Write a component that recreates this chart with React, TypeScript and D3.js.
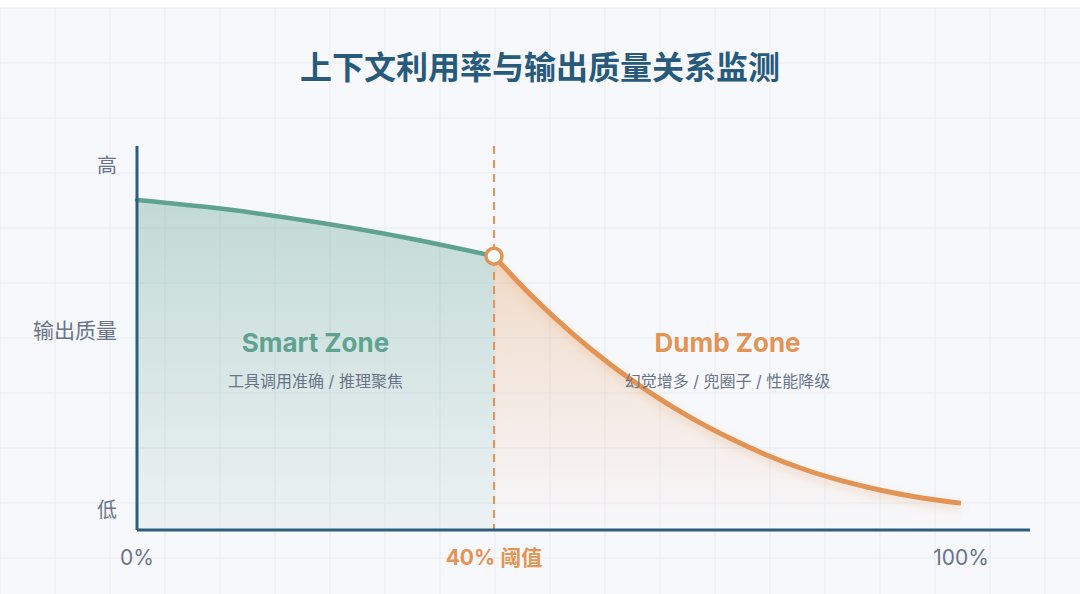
import React from "react";
import * as d3 from "d3";

const W = 1080;
const H = 594;

const title = "上下文利用率与输出质量关系监测";
const yTickLabels = ["低", "输出质量", "高"];
const yTickValues = [0, 50, 100];
const xTickValues = [0, 40, 100];
const xTickLabels = ["0%", "40% 阈值", "100%"];
const threshold = 40;

// Context utilization (%) vs output quality (0–100)
const smartX = [0, 10, 20, 30, 40];
const smartY = [90.1, 87.4, 83.7, 79.2, 73.8];
const dumbX = [40, 45, 50, 55, 60, 65, 70, 75, 80, 85, 90, 95, 100];
const dumbY = [73.8, 61.9, 51.4, 42.2, 34.2, 27.2, 21.2, 16.0, 11.7, 8.3, 5.6, 3.5, 2.0];

const zoneNames = ["Smart Zone", "Dumb Zone"];
const zoneNotes = ["工具调用准确 / 推理聚焦", "幻觉增多 / 兜圈子 / 性能降级"];

const GREEN = "#5fa28f";
const ORANGE = "#e39454";
const AXIS = "#2e5e7e";
const GRAY = "#6a7489";
const TITLE = "#275a7b";
const CJK = "'Inter', 'Noto Sans CJK SC', 'Noto Sans', sans-serif";

export default function App() {
  const x = d3.scaleLinear().domain([0, 40, 100]).range([137, 494, 961]);
  const y = d3.scaleLinear().domain([0, 100]).range([510, 166]);
  const axisTop = 146;
  const axisBottom = 530;
  const axisRight = 1030;

  const smart = smartX.map((v, i) => [v, smartY[i]] as [number, number]);
  const dumb = dumbX.map((v, i) => [v, dumbY[i]] as [number, number]);

  const line = d3
    .line<[number, number]>()
    .x((d) => x(d[0]))
    .y((d) => y(d[1]))
    .curve(d3.curveMonotoneX);
  const area = d3
    .area<[number, number]>()
    .x((d) => x(d[0]))
    .y0(axisBottom)
    .y1((d) => y(d[1]))
    .curve(d3.curveMonotoneX);

  const gridX = d3.range(0, W + 1, 55);
  const gridY = d3.range(8, H + 1, 55);

  const tx = x(threshold);
  const ty = y(smartY[smartY.length - 1]);

  return (
    <svg
      width={W}
      height={H}
      style={{ position: "fixed", left: 0, top: 0, display: "block" }}
    >
      <defs>
        <linearGradient id="gGreen" x1="0" y1="0" x2="0" y2="1">
          <stop offset="0%" stopColor={GREEN} stopOpacity={0.35} />
          <stop offset="100%" stopColor={GREEN} stopOpacity={0.07} />
        </linearGradient>
        <linearGradient id="gOrange" x1="0" y1="0" x2="0" y2="1">
          <stop offset="0%" stopColor={ORANGE} stopOpacity={0.3} />
          <stop offset="100%" stopColor={ORANGE} stopOpacity={0.0} />
        </linearGradient>
        <filter id="glow" x="-10%" y="-20%" width="120%" height="140%">
          <feDropShadow dx="0" dy="4" stdDeviation="4" floodColor={ORANGE} floodOpacity={0.3} />
        </filter>
      </defs>
      <rect x={0} y={0} width={W} height={H} fill="#ffffff" />
      <rect x={0} y={8} width={W} height={H - 8} fill="#f7f8fb" />
      {gridX.map((gx) => (
        <line key={"vx" + gx} x1={gx} x2={gx} y1={8} y2={H} stroke="#e9ebf1" strokeWidth={1} />
      ))}
      {gridY.map((gy) => (
        <line key={"hy" + gy} x1={0} x2={W} y1={gy} y2={gy} stroke="#e9ebf1" strokeWidth={1} />
      ))}

      <text
        x={W / 2}
        y={79}
        textAnchor="middle"
        fontFamily={CJK}
        fontWeight={700}
        fontSize={32}
        fill={TITLE}
      >
        {title}
      </text>

      <path d={area(smart) || ""} fill="url(#gGreen)" />
      <path d={area(dumb) || ""} fill="url(#gOrange)" />

      <line
        x1={tx}
        x2={tx}
        y1={axisTop}
        y2={axisBottom}
        stroke={ORANGE}
        strokeWidth={2}
        strokeDasharray="8 6"
      />

      <path d={line(smart) || ""} fill="none" stroke={GREEN} strokeWidth={4.5} strokeLinecap="round" />
      <path
        d={line(dumb) || ""}
        fill="none"
        stroke={ORANGE}
        strokeWidth={5}
        filter="url(#glow)"
      />

      <line x1={137} x2={137} y1={axisTop} y2={axisBottom} stroke={AXIS} strokeWidth={3} />
      <line x1={137} x2={axisRight} y1={axisBottom} y2={axisBottom} stroke={AXIS} strokeWidth={3} />

      <circle cx={tx} cy={ty} r={8} fill="#ffffff" stroke={ORANGE} strokeWidth={3.5} />

      {yTickValues.map((v, i) => (
        <text
          key={"yl" + i}
          x={117}
          y={y(v) + (i === 1 ? -7 : 0)}
          dy="0.35em"
          textAnchor="end"
          fontFamily={CJK}
          fontSize={i === 1 ? 21 : 20}
          fill={GRAY}
        >
          {yTickLabels[i]}
        </text>
      ))}

      {xTickValues.map((v, i) => (
        <text
          key={"xl" + i}
          x={x(v)}
          y={565}
          textAnchor="middle"
          fontFamily={CJK}
          fontSize={21}
          fontWeight={i === 1 ? 700 : 400}
          fill={i === 1 ? ORANGE : GRAY}
        >
          {xTickLabels[i]}
        </text>
      ))}

      {zoneNames.map((name, i) => {
        const cx = i === 0 ? (x(0) + x(threshold)) / 2 : (x(threshold) + x(100)) / 2;
        return (
          <g key={"z" + i}>
            <text
              x={cx}
              y={352}
              textAnchor="middle"
              fontFamily={CJK}
              fontWeight={700}
              fontSize={26}
              fill={i === 0 ? GREEN : ORANGE}
            >
              {name}
            </text>
            <text
              x={cx}
              y={387}
              textAnchor="middle"
              fontFamily={CJK}
              fontSize={16}
              fill={GRAY}
            >
              {zoneNotes[i]}
            </text>
          </g>
        );
      })}
    </svg>
  );
}
